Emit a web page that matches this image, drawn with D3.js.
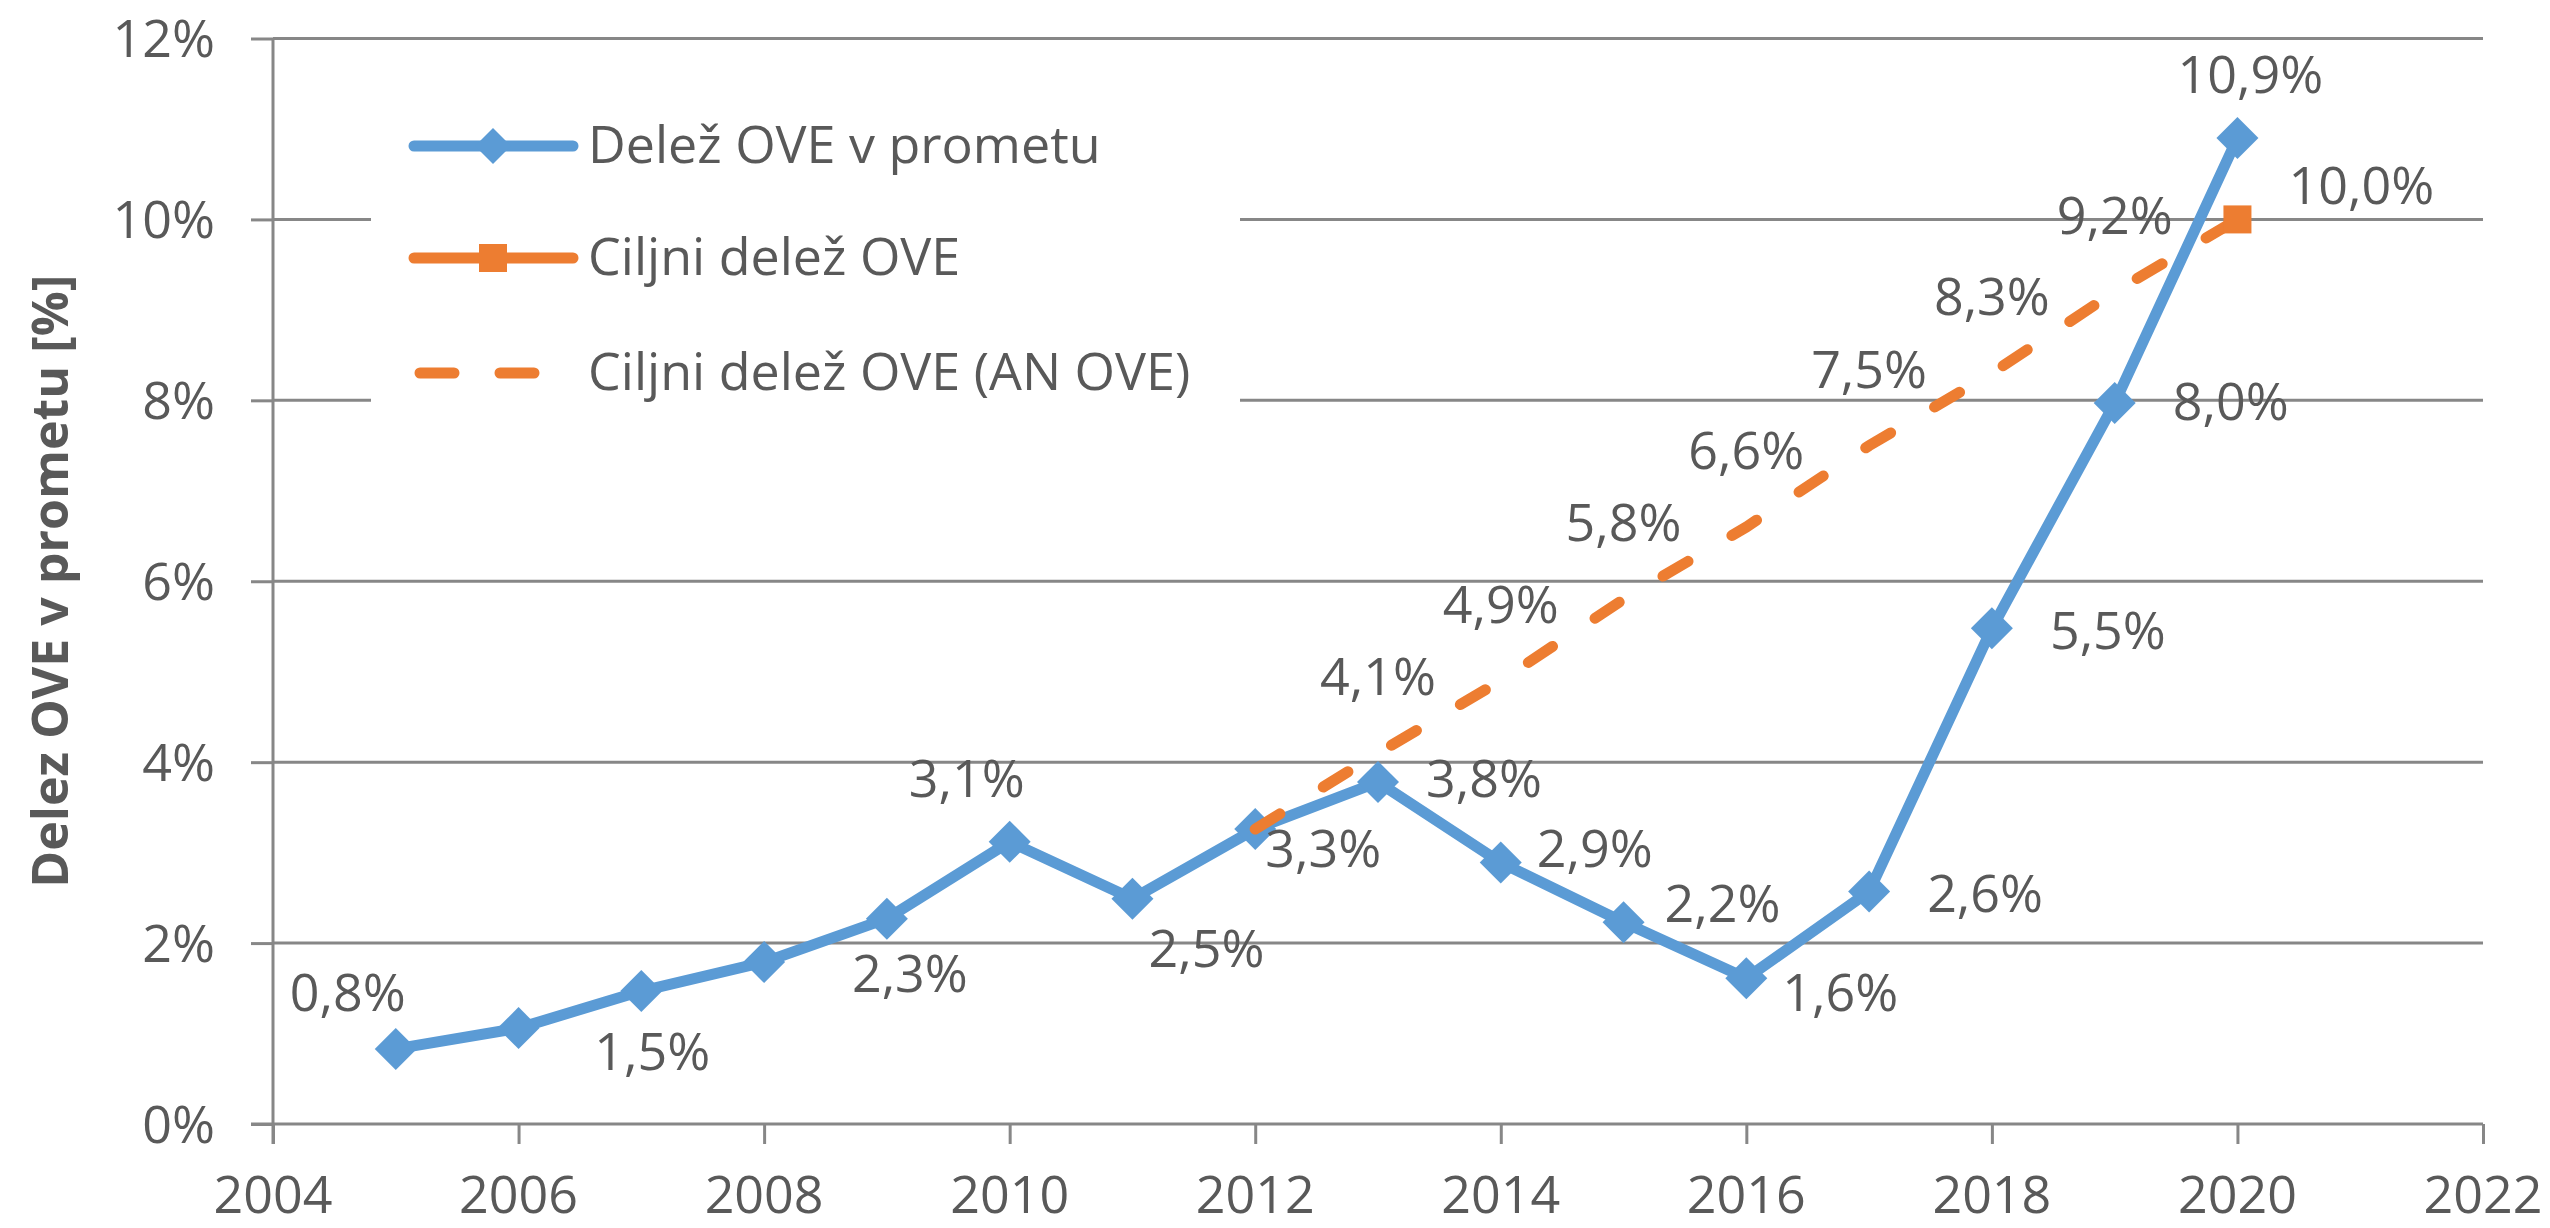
<!DOCTYPE html>
<html>
<head>
<meta charset="utf-8">
<script src="https://cdn.jsdelivr.net/npm/d3@7"></script>
<style>
  html, body { margin: 0; padding: 0; background: #ffffff; }
  svg { display: block; }
  text { font-family: "Open Sans", "Noto Sans", sans-serif; fill: #595959; }
</style>
</head>
<body>
<svg id="chart" width="2550" height="1228"></svg>
<script>
// ---------------- DATA ----------------
const years = [2005, 2006, 2007, 2008, 2009, 2010, 2011, 2012, 2013, 2014, 2015, 2016, 2017, 2018, 2019, 2020];
const actualShare = [0.83, 1.06, 1.47, 1.79, 2.27, 3.12, 2.49, 3.26, 3.78, 2.89, 2.23, 1.61, 2.57, 5.48, 7.97, 10.9];
const actualLabelShown = [true, false, true, false, true, true, true, true, true, true, true, true, true, true, true, true];

const targetYears = [2020];
const targetShare = [10.0];

const planYears = [2012, 2013, 2014, 2015, 2016, 2017, 2018, 2019, 2020];
const planShare = [3.26, 4.1, 4.9, 5.8, 6.6, 7.5, 8.3, 9.2, 10.0];
const planLabelShown = [false, true, true, true, true, true, true, true, false];

const xTicks = [2004, 2006, 2008, 2010, 2012, 2014, 2016, 2018, 2020, 2022];
const yTicks = [0, 2, 4, 6, 8, 10, 12];

const seriesNames = ["Delež OVE v prometu", "Ciljni delež OVE", "Ciljni delež OVE (AN OVE)"];
const yTitle = "Delez OVE v prometu [%]";

// ---------------- LAYOUT ----------------
// label nudges: [dx of text centre, dy of baseline] relative to the point
const actualLabelNudge = [[-48,-38],[0,0],[11,79],[0,0],[23,73],[-43,-45],[74,68],[68,38],
  [106,15],[94,4],[99,0],[94,33],[116,20],[116,21],[116,17],[13,-45]];
const planLabelNudge = [0, -58];
const targetLabelNudge = [124, -15];

const blue = "#5B9BD5", orange = "#ED7D31", grid = "#878787";
const fs = 52;

const svg = d3.select("#chart");
const x = d3.scaleLinear().domain([2004, 2022]).range([273, 2483]);
const y = d3.scaleLinear().domain([0, 12]).range([1124, 38.5]);
const fmt = v => d3.format(".1f")(v).replace(".", ",") + "%";

// gridlines + y ticks
const gAxisY = svg.append("g")
  .attr("transform", `translate(${x(2004)},0)`)
  .call(d3.axisLeft(y).tickValues(yTicks).tickSize(22).tickFormat(d => d + "%"));
gAxisY.select(".domain").remove();
gAxisY.selectAll(".tick line").attr("stroke", grid).attr("stroke-width", 3);
gAxisY.selectAll(".tick text").remove();

svg.append("g").selectAll("line").data(yTicks.filter(d => d > 0)).join("line")
  .attr("x1", x(2004)).attr("x2", x(2022))
  .attr("y1", d => y(d)).attr("y2", d => y(d))
  .attr("stroke", grid).attr("stroke-width", 3);

svg.append("g").selectAll("text").data(yTicks).join("text")
  .attr("x", 215).attr("y", d => y(d) + 18.5)
  .attr("text-anchor", "end").attr("font-size", fs)
  .text(d => d + "%");

// x axis
const gAxisX = svg.append("g")
  .attr("transform", `translate(0,${y(0)})`)
  .call(d3.axisBottom(x).tickValues(xTicks).tickSize(20).tickFormat(d3.format("d")));
gAxisX.select(".domain").attr("stroke", grid).attr("stroke-width", 3)
  .attr("d", `M${x(2004) - 22},0H${x(2022)}`);
gAxisX.selectAll(".tick line").attr("stroke", grid).attr("stroke-width", 3);
gAxisX.selectAll(".tick text").remove();
svg.append("g").selectAll("text").data(xTicks).join("text")
  .attr("x", d => x(d)).attr("y", 1213)
  .attr("text-anchor", "middle").attr("font-size", fs)
  .text(d => d);

// y axis line
svg.append("line").attr("x1", x(2004)).attr("x2", x(2004))
  .attr("y1", y(12)).attr("y2", y(0) + 20)
  .attr("stroke", grid).attr("stroke-width", 3);

// legend background
svg.append("rect").attr("x", 371).attr("y", 95).attr("width", 869).attr("height", 320).attr("fill", "#ffffff");

// y title
svg.append("text")
  .attr("transform", `translate(68,${(y(0) + y(12)) / 2}) rotate(-90)`)
  .attr("text-anchor", "middle").attr("font-size", 50).attr("font-weight", 700)
  .text(yTitle);

// actual series
const actual = years.map((yr, i) => ({ yr, v: actualShare[i], show: actualLabelShown[i], n: actualLabelNudge[i] }));
const line = d3.line().x(d => x(d.yr)).y(d => y(d.v));
svg.append("path").datum(actual).attr("d", line)
  .attr("fill", "none").attr("stroke", blue).attr("stroke-width", 11).attr("stroke-linejoin", "round");
const diamond = r => `M0,${-r}L${r},0L0,${r}L${-r},0Z`;
svg.append("g").selectAll("path").data(actual).join("path")
  .attr("transform", d => `translate(${x(d.yr)},${y(d.v)})`)
  .attr("d", diamond(21)).attr("fill", blue);

// plan series (dashed)
const plan = planYears.map((yr, i) => ({ yr, v: planShare[i], show: planLabelShown[i] }));
svg.append("path").datum(plan).attr("d", line)
  .attr("fill", "none").attr("stroke", orange).attr("stroke-width", 11)
  .attr("stroke-linecap", "round").attr("stroke-dasharray", "29 51");

// target series (square)
const target = targetYears.map((yr, i) => ({ yr, v: targetShare[i] }));
svg.append("g").selectAll("rect").data(target).join("rect")
  .attr("x", d => x(d.yr) - 14).attr("y", d => y(d.v) - 14)
  .attr("width", 28).attr("height", 28).attr("fill", orange);

// labels
svg.append("g").selectAll("text").data(actual.filter(d => d.show)).join("text")
  .attr("x", d => x(d.yr) + d.n[0]).attr("y", d => y(d.v) + d.n[1])
  .attr("text-anchor", "middle").attr("font-size", fs)
  .text(d => fmt(d.v));
svg.append("g").selectAll("text").data(plan.filter(d => d.show)).join("text")
  .attr("x", d => x(d.yr) + planLabelNudge[0]).attr("y", d => y(d.v) + planLabelNudge[1])
  .attr("text-anchor", "middle").attr("font-size", fs)
  .text(d => fmt(d.v));
svg.append("g").selectAll("text").data(target).join("text")
  .attr("x", d => x(d.yr) + targetLabelNudge[0]).attr("y", d => y(d.v) + targetLabelNudge[1])
  .attr("text-anchor", "middle").attr("font-size", fs)
  .text(d => fmt(d.v));

// legend
const legY = [146, 258, 373];
const lg = svg.append("g");
// 1: blue line + diamond
lg.append("line").attr("x1", 414).attr("x2", 573).attr("y1", legY[0]).attr("y2", legY[0])
  .attr("stroke", blue).attr("stroke-width", 11).attr("stroke-linecap", "round");
lg.append("path").attr("transform", `translate(493,${legY[0]})`).attr("d", diamond(18)).attr("fill", blue);
// 2: orange line + square
lg.append("line").attr("x1", 414).attr("x2", 573).attr("y1", legY[1]).attr("y2", legY[1])
  .attr("stroke", orange).attr("stroke-width", 11).attr("stroke-linecap", "round");
lg.append("rect").attr("x", 479).attr("y", legY[1] - 14).attr("width", 28).attr("height", 28).attr("fill", orange);
// 3: dashed
lg.append("line").attr("x1", 420).attr("x2", 573).attr("y1", legY[2]).attr("y2", legY[2])
  .attr("stroke", orange).attr("stroke-width", 11).attr("stroke-linecap", "round")
  .attr("stroke-dasharray", "34 46");
lg.selectAll("text").data(seriesNames).join("text")
  .attr("x", 588).attr("y", (d, i) => legY[i] + 17)
  .attr("font-size", fs).text(d => d);
</script>
</body>
</html>
